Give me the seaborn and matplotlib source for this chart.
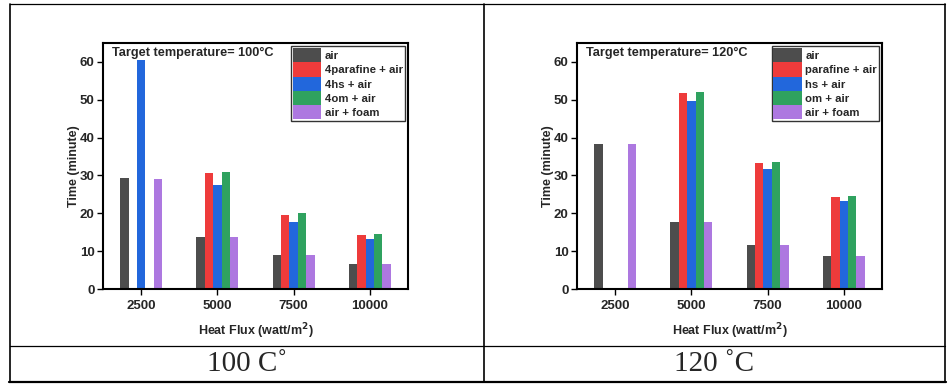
import numpy as np
import pandas as pd
import seaborn as sns
import matplotlib.pyplot as plt
from matplotlib.lines import Line2D

# data
flux = ['2500', '5000', '7500', '10000']

air_100 = [29.2, 13.8, 9.0, 6.7]
paraf_100 = [0, 30.7, 19.6, 14.4]
hs_100 = [60.5, 27.5, 17.8, 13.2]
om_100 = [0, 31.0, 20.1, 14.6]
foam_100 = [29.1, 13.8, 9.0, 6.7]

air_120 = [38.4, 17.8, 11.6, 8.6]
paraf_120 = [0, 51.7, 33.2, 24.4]
hs_120 = [0, 49.6, 31.8, 23.3]
om_120 = [0, 52.0, 33.5, 24.6]
foam_120 = [38.4, 17.8, 11.6, 8.6]

labels_100 = ['air', '4parafine + air', '4hs + air', '4om + air', 'air + foam']
labels_120 = ['air', 'parafine + air', 'hs + air', 'om + air', 'air + foam']
colors = ['#4d4d4d', '#ee3b3b', '#2267dc', '#2fa25f', '#ad78e0']

sns.set_style('white')
plt.rcParams['font.family'] = ['Liberation Sans', 'DejaVu Sans']
plt.rcParams['font.weight'] = 'bold'


def long_df(series, labels):
    rows = []
    for lab, vals in zip(labels, series):
        for f, v in zip(flux, vals):
            rows.append({'flux': f, 'time': v, 'series': lab})
    return pd.DataFrame(rows)


def panel(ax, df, labels, temp):
    sns.barplot(data=df, x='flux', y='time', hue='series', hue_order=labels,
                order=flux, palette=colors, width=0.55, saturation=1,
                linewidth=0, ax=ax)
    ax.set_xlim(-0.5, 3.5)
    ax.set_ylim(0, 65)
    ax.set_yticks([0, 10, 20, 30, 40, 50, 60])
    for s in ax.spines.values():
        s.set_color('black')
        s.set_linewidth(1.5)
    ax.tick_params(axis='both', which='major', direction='out', length=4,
                   width=1, color='black', labelsize=9.5, pad=2,
                   left=True, bottom=True)
    ax.tick_params(axis='x', pad=4)
    for t in ax.get_xticklabels() + ax.get_yticklabels():
        t.set_fontweight('bold')
    ax.set_xlabel('Heat Flux (watt/m$^\\mathbf{2}$)', fontsize=9,
                  fontweight='bold', labelpad=7)
    ax.set_ylabel('Time (minute)', fontsize=9, fontweight='bold', labelpad=0)
    ax.text(0.03, 0.985, 'Target temperature= %d\u00b0C' % temp,
            transform=ax.transAxes, ha='left', va='top', fontsize=9.2,
            fontweight='bold')
    leg = ax.legend(loc='upper right', fontsize=8, frameon=True, fancybox=False,
                    edgecolor='black', handlelength=2.5, handleheight=1.55,
                    labelspacing=0.0, handletextpad=0.3, borderpad=0.15,
                    borderaxespad=0.3, prop={'weight': 'bold', 'size': 8.2})
    leg.get_frame().set_linewidth(1.0)


fig = plt.figure(figsize=(9.48, 3.85), dpi=100)
W, H = 948.0, 385.0

ax1 = fig.add_axes([103 / W, 96 / H, 305 / W, 246 / H])
ax2 = fig.add_axes([577 / W, 96 / H, 305 / W, 246 / H])

panel(ax1, long_df([air_100, paraf_100, hs_100, om_100, foam_100], labels_100),
      labels_100, 100)
panel(ax2, long_df([air_120, paraf_120, hs_120, om_120, foam_120], labels_120),
      labels_120, 120)

# table grid around the two panels
def hline(y, x0, x1, lw):
    fig.add_artist(Line2D([x0 / W, x1 / W], [1 - y / H, 1 - y / H],
                          color='black', lw=lw))


def vline(x, y0, y1, lw):
    fig.add_artist(Line2D([x / W, x / W], [1 - y0 / H, 1 - y1 / H],
                          color='black', lw=lw))


hline(4, 10, 945, 0.9)
hline(345.5, 10, 945, 0.9)
hline(381.5, 9, 946, 1.6)
vline(10, 4, 382, 1.2)
vline(945, 4, 382, 1.2)
vline(484, 4, 382, 1.2)

fig.text(247 / W, 1 - 364 / H, '100 C\u02da', ha='center', va='center',
         fontsize=21, family=['Liberation Serif', 'DejaVu Serif'],
         fontweight='normal')
fig.text(714 / W, 1 - 364 / H, '120 \u02daC', ha='center', va='center',
         fontsize=21, family=['Liberation Serif', 'DejaVu Serif'],
         fontweight='normal')

fig.savefig('out.png', dpi=100, facecolor='white')
